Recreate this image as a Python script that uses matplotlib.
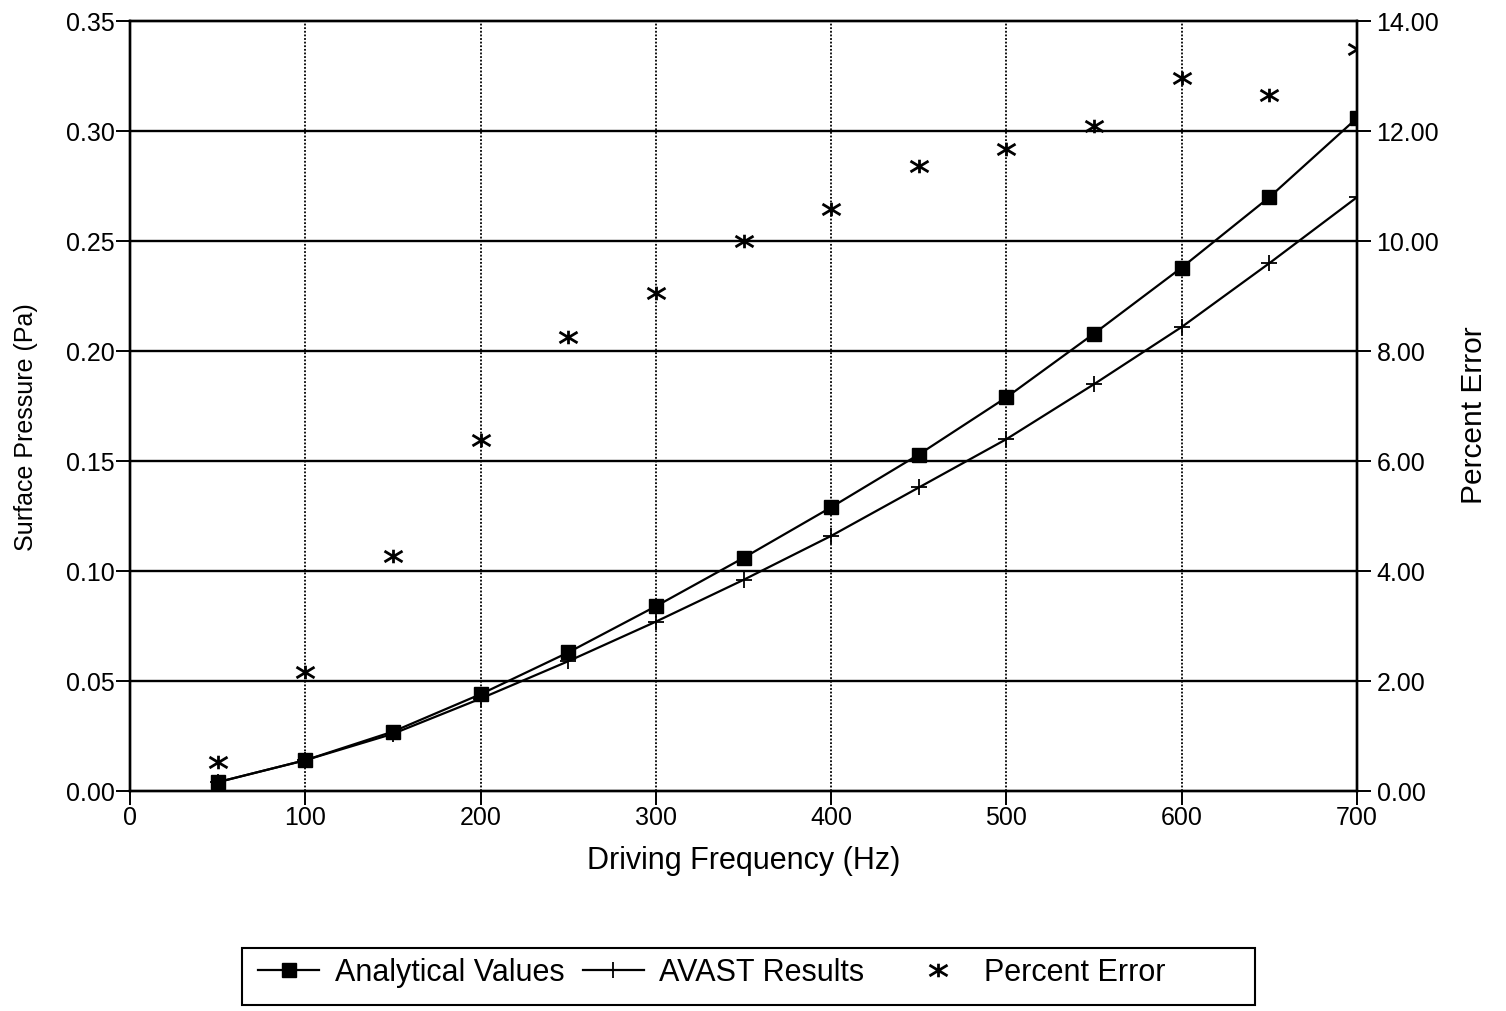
import matplotlib
matplotlib.use("Agg")
import matplotlib.pyplot as plt
from matplotlib.ticker import FormatStrFormatter, MultipleLocator
from matplotlib.path import Path
from matplotlib.patches import Rectangle

plt.rcParams['font.family'] = ['Liberation Sans', 'DejaVu Sans']

freq = [50, 100, 150, 200, 250, 300, 350, 400, 450, 500, 550, 600, 650, 700]
analytical = [0.004, 0.014, 0.027, 0.044, 0.063, 0.084, 0.106, 0.129, 0.153,
              0.179, 0.208, 0.238, 0.270, 0.306]
avast = [0.004, 0.014, 0.026, 0.042, 0.059, 0.077, 0.096, 0.116, 0.138,
         0.160, 0.185, 0.211, 0.240, 0.270]
pct_error = [0.52, 2.17, 4.27, 6.38, 8.26, 9.06, 10.0, 10.58, 11.36,
             11.68, 12.10, 12.96, 12.66, 13.50]

xticks = [0, 100, 200, 300, 400, 500, 600, 700]

# asterisk marker: short vertical bar plus a wide X
ast = Path([(0, -0.75), (0, 0.75), (-1, -0.6), (1, 0.6), (-1, 0.6), (1, -0.6)],
           [Path.MOVETO, Path.LINETO, Path.MOVETO, Path.LINETO,
            Path.MOVETO, Path.LINETO])

fig = plt.figure(figsize=(15.06, 10.11), dpi=100)
ax = fig.add_axes([0.0863, 0.2176, 0.9011 - 0.0863, 0.979 - 0.2176])
ax2 = ax.twinx()

# grid
for yv in [0.05, 0.10, 0.15, 0.20, 0.25, 0.30]:
    ax.axhline(yv, color='black', lw=1.7, zorder=1)
for xv in xticks[1:-1]:
    ax.axvline(xv, color='black', lw=1.3, ls=(0, (1, 1)), zorder=1)

l1, = ax.plot(freq, analytical, color='black', lw=1.6, marker='s', ms=10,
              mfc='black', mec='black', zorder=3, label='Analytical Values')
l2, = ax.plot(freq, avast, color='black', lw=1.6, marker='+', ms=11,
              mew=1.3, zorder=3, label='AVAST Results')
l3, = ax2.plot(freq, pct_error, ls='none', color='black', marker=ast,
               ms=13, mew=2.0, zorder=3, label='Percent Error')

ax.set_xlim(0, 700)
ax.set_ylim(0, 0.35)
ax2.set_ylim(0, 14)
ax.set_xticks(xticks)
ax.yaxis.set_major_locator(MultipleLocator(0.05))
ax.yaxis.set_major_formatter(FormatStrFormatter('%.2f'))
ax2.yaxis.set_major_locator(MultipleLocator(2))
ax2.yaxis.set_major_formatter(FormatStrFormatter('%.2f'))

for a in (ax, ax2):
    for s in a.spines.values():
        s.set_linewidth(1.7)
ax.tick_params(axis='both', direction='out', length=10, width=1.4,
               labelsize=18, pad=1)
ax2.tick_params(axis='y', direction='out', length=10, width=1.4,
                labelsize=18, pad=4)

ax.set_xlabel('Driving Frequency (Hz)', fontsize=22, labelpad=11)
ax.set_ylabel('Surface Pressure (Pa)', fontsize=18)
ax.yaxis.set_label_coords(-0.075, 0.473)
ax2.set_ylabel('Percent Error', fontsize=21.5)
ax2.yaxis.set_label_coords(1.084, 0.488)

leg1 = fig.legend(handles=[l1, l2], loc='center left',
                  bbox_to_anchor=(243 / 1506, 1 - 973 / 1011), ncol=2,
                  fontsize=22, frameon=False, handlelength=2.0,
                  columnspacing=0.6, handletextpad=0.5, borderpad=0)
leg2 = fig.legend(handles=[l3], loc='center left',
                  bbox_to_anchor=(892 / 1506, 1 - 973 / 1011), ncol=1,
                  fontsize=22, frameon=False, handlelength=2.0,
                  handletextpad=0.5, borderpad=0)

fig.patches.append(Rectangle((242 / 1506, 1 - 1005 / 1011),
                             (1255 - 242) / 1506, (1005 - 948) / 1011,
                             transform=fig.transFigure, fill=False,
                             edgecolor='black', lw=1.5))

fig.savefig('out.png', dpi=100)
